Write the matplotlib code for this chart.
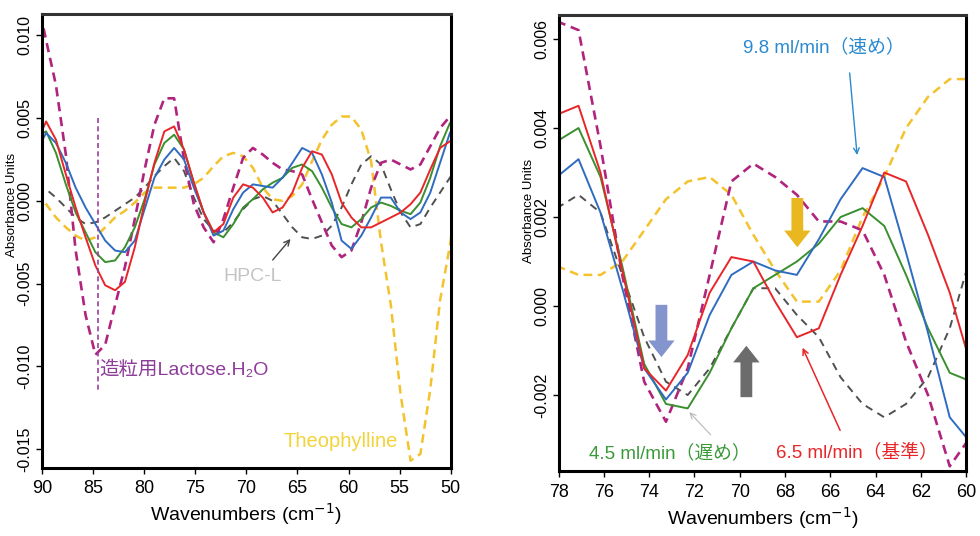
import matplotlib
matplotlib.use('Agg')
import matplotlib.pyplot as plt

plt.rcParams['font.family'] = ['Liberation Sans', 'Noto Sans CJK JP', 'DejaVu Sans']

# second-derivative spectra, full range (left) and enlarged 78-60 cm-1 (right)
wn_left = [90.56, 89.60, 88.64, 87.67, 86.71, 85.74, 84.78, 83.82, 82.85, 81.89, 80.92,
           79.96, 79.00, 78.03, 77.07, 76.10, 75.14, 74.18, 73.21, 72.25, 71.28, 70.32,
           69.36, 68.39, 67.43, 66.46, 65.50, 64.54, 63.57, 62.61, 61.64, 60.68, 59.72,
           58.75, 57.79, 56.82, 55.86, 54.90, 53.93, 52.97, 52.00, 51.04, 50.08, 49.11]

red_left = [0.0035, 0.0048, 0.0037, 0.0016, -0.0004, -0.0022, -0.0039, -0.0051, -0.0054, -0.0049, -0.0028,
            -0.0001, 0.0023, 0.0042, 0.0045, 0.0031, 0.0011, -0.0007, -0.0019, -0.0014, 0.0002, 0.0010,
            0.0008, 0.0002, -0.0007, -0.0004, 0.0005, 0.0020, 0.0030, 0.0028, 0.0016, -0.0001, -0.0010,
            -0.0016, -0.0016, -0.0013, -0.0010, -0.0007, -0.0002, 0.0005, 0.0019, 0.0032, 0.0036, 0.0037]
blue_left = [0.0030, 0.0041, 0.0035, 0.0023, 0.0008, -0.0004, -0.0014, -0.0024, -0.0030, -0.0031, -0.0024,
             -0.0005, 0.0014, 0.0025, 0.0032, 0.0025, 0.0008, -0.0007, -0.0021, -0.0018, -0.0005, 0.0005,
             0.0010, 0.0009, 0.0008, 0.0014, 0.0023, 0.0032, 0.0029, 0.0016, -0.0001, -0.0024, -0.0029,
             -0.0021, -0.0010, 0.0002, 0.0002, -0.0007, -0.0011, -0.0007, 0.0005, 0.0023, 0.0041, 0.0050]
green_left = [0.0039, 0.0042, 0.0029, 0.0010, -0.0007, -0.0019, -0.0031, -0.0037, -0.0036, -0.0028, -0.0016,
              0.0001, 0.0022, 0.0035, 0.0040, 0.0031, 0.0011, -0.0007, -0.0019, -0.0022, -0.0014, -0.0004,
              0.0001, 0.0007, 0.0011, 0.0014, 0.0020, 0.0022, 0.0018, 0.0008, -0.0004, -0.0014, -0.0016,
              -0.0011, -0.0004, -0.0001, -0.0003, -0.0006, -0.0008, -0.0001, 0.0014, 0.0033, 0.0047, 0.0054]
lactose_left = [0.0125, 0.0097, 0.0070, 0.0028, -0.0030, -0.0069, -0.0093, -0.0087, -0.0063, -0.0040, -0.0011,
                0.0019, 0.0046, 0.0062, 0.0062, 0.0025, -0.0002, -0.0016, -0.0025, -0.0011, 0.0008, 0.0026,
                0.0032, 0.0028, 0.0023, 0.0019, 0.0018, 0.0016, 0.0001, -0.0013, -0.0027, -0.0034, -0.0030,
                -0.0013, 0.0008, 0.0023, 0.0025, 0.0022, 0.0019, 0.0022, 0.0033, 0.0044, 0.0051, 0.0055]
hpc_left = [0.0009, 0.0007, 0.0002, -0.0004, -0.0010, -0.0014, -0.0013, -0.0010, -0.0006, -0.0002, 0.0002,
            0.0008, 0.0015, 0.0021, 0.0026, 0.0018, 0.0002, -0.0011, -0.0018, -0.0019, -0.0013, -0.0005,
            0.0001, 0.0003, 0.0000, -0.0008, -0.0016, -0.0022, -0.0023, -0.0021, -0.0015, -0.0004, 0.0010,
            0.0022, 0.0027, 0.0022, 0.0007, -0.0007, -0.0016, -0.0014, -0.0004, 0.0005, 0.0014, 0.0022]
theo_left = [0.0005, -0.0002, -0.0010, -0.0016, -0.0021, -0.0024, -0.0022, -0.0016, -0.0010, -0.0006, -0.0001,
             0.0005, 0.0008, 0.0008, 0.0008, 0.0008, 0.0010, 0.0014, 0.0021, 0.0027, 0.0029, 0.0027,
             0.0020, 0.0008, 0.0001, 0.0000, 0.0003, 0.0010, 0.0024, 0.0037, 0.0046, 0.0051, 0.0051,
             0.0043, 0.0024, -0.0025, -0.0063, -0.0117, -0.0157, -0.0153, -0.0114, -0.0060, -0.0027, 0.0013]

wn_right = [78.08, 77.12, 76.15, 75.19, 74.22, 73.26, 72.30, 71.33, 70.37, 69.40,
            68.44, 67.48, 66.51, 65.55, 64.58, 63.62, 62.66, 61.69, 60.73, 59.76]

red_right = [0.0043, 0.0045, 0.0030, 0.0008, -0.0014, -0.0019, -0.0011, 0.0003, 0.0011, 0.0010,
             0.0001, -0.0007, -0.0005, 0.0007, 0.0018, 0.0030, 0.0028, 0.0016, 0.0003, -0.0014]
blue_right = [0.0029, 0.0033, 0.0021, 0.0004, -0.0014, -0.0021, -0.0015, -0.0002, 0.0007, 0.0010,
              0.0008, 0.0007, 0.0015, 0.0024, 0.0031, 0.0029, 0.0012, -0.0006, -0.0025, -0.0031]
green_right = [0.0037, 0.0040, 0.0029, 0.0009, -0.0013, -0.0022, -0.0023, -0.0015, -0.0005, 0.0004,
               0.0007, 0.0010, 0.0014, 0.0020, 0.0022, 0.0018, 0.0007, -0.0005, -0.0015, -0.0017]
lactose_right = [0.0064, 0.0062, 0.0036, 0.0007, -0.0017, -0.0026, -0.0014, 0.0007, 0.0028, 0.0032,
                 0.0029, 0.0025, 0.0019, 0.0019, 0.0017, 0.0007, -0.0008, -0.0020, -0.0036, -0.0029]
hpc_right = [0.0022, 0.0025, 0.0021, 0.0007, -0.0007, -0.0017, -0.0020, -0.0014, -0.0005, 0.0004,
             0.0004, -0.0002, -0.0007, -0.0016, -0.0022, -0.0025, -0.0022, -0.0016, -0.0005, 0.0012]
theo_right = [0.0009, 0.0007, 0.0007, 0.0010, 0.0017, 0.0024, 0.0028, 0.0029, 0.0025, 0.0016,
              0.0008, 0.0001, 0.0001, 0.0008, 0.0020, 0.0029, 0.0040, 0.0047, 0.0051, 0.0051]

RED = '#e8262a'
BLUE = '#2f6cc0'
GREEN = '#3a8f2e'
MAGENTA = '#b0247e'
GRAY = '#505050'
YELLOW = '#f4c22c'


def draw_spectra(ax, wn, red, blue, green, lactose, hpc, theo):
    ax.plot(wn, theo, color=YELLOW, lw=1.8, dashes=(3.5, 2.2))
    ax.plot(wn, hpc, color=GRAY, lw=1.4, dashes=(4, 3))
    ax.plot(wn, lactose, color=MAGENTA, lw=1.9, dashes=(3.5, 2.2))
    ax.plot(wn, green, color=GREEN, lw=1.4)
    ax.plot(wn, blue, color=BLUE, lw=1.4)
    ax.plot(wn, red, color=RED, lw=1.4)


def style_axes(ax):
    for sp in ax.spines.values():
        sp.set_linewidth(2.2)
        sp.set_color('black')
    ax.spines['top'].set_color('#333333')
    ax.tick_params(axis='x', direction='out', length=4, width=1, labelsize=13, pad=5)
    ax.tick_params(axis='y', direction='out', length=4, width=1, labelsize=11.5, pad=3)
    for lab in ax.get_yticklabels():
        lab.set_rotation(90)
        lab.set_va('center')
    ax.set_xlabel('Wavenumbers (cm$^{-1}$)', fontsize=14, labelpad=3)


fig = plt.figure(figsize=(9.8, 5.36), dpi=100)

# left: 90-50 cm-1
ax1 = fig.add_axes([0.0429, 0.127, 0.417, 0.847])
draw_spectra(ax1, wn_left, red_left, blue_left, green_left, lactose_left, hpc_left, theo_left)
ax1.set_xlim(90, 50)
ax1.set_ylim(-0.01614, 0.0113)
ax1.set_xticks([90, 85, 80, 75, 70, 65, 60, 55, 50])
ax1.set_yticks([0.010, 0.005, 0.000, -0.005, -0.010, -0.015])
ax1.set_yticklabels(['0.010', '0.005', '0.000', '-0.005', '-0.010', '-0.015'])
style_axes(ax1)
ax1.set_ylabel('Absorbance Units', fontsize=9.5)
ax1.yaxis.set_label_coords(-0.058, 0.58)

ax1.plot([84.55, 84.55], [0.0050, -0.0114], color='#9b3fa0', lw=1.2, dashes=(3, 2))
ax1.text(84.4, -0.0102, '造粒用Lactose.H₂O', color='#8e3c9a', fontsize=14,
         ha='left', va='center')
ax1.text(69.4, -0.0046, 'HPC-L', color='#c4c4c4', fontsize=14, ha='center', va='center')
ax1.annotate('', xy=(65.5, -0.00217), xytext=(67.6, -0.0037),
             arrowprops=dict(arrowstyle='->', color='#444444', lw=1))
ax1.text(60.8, -0.01457, 'Theophylline', color='#f2d33a', fontsize=14.5,
         ha='center', va='center')

# right: enlarged 78-60 cm-1
ax2 = fig.add_axes([0.570, 0.121, 0.416, 0.851])
draw_spectra(ax2, wn_right, red_right, blue_right, green_right, lactose_right, hpc_right, theo_right)
ax2.set_xlim(78, 60)
ax2.set_ylim(-0.00371, 0.00654)
ax2.set_xticks(range(78, 59, -2))
ax2.set_yticks([0.006, 0.004, 0.002, 0.000, -0.002])
ax2.set_yticklabels(['0.006', '0.004', '0.002', '0.000', '-0.002'])
style_axes(ax2)
ax2.set_ylabel('Absorbance Units', fontsize=9.5)
ax2.yaxis.set_label_coords(-0.058, 0.57)

ax2.text(66.27, 0.00582, '9.8 ml/min（速め）', color='#2a8ad0', fontsize=13.5,
         ha='center', va='center')
ax2.annotate('', xy=(64.81, 0.00333), xytext=(65.16, 0.0053),
             arrowprops=dict(arrowstyle='->', color='#2a8ad0', lw=1))
ax2.text(73.1, -0.0033, '4.5 ml/min（遅め）', color='#3a9a3a', fontsize=13.5,
         ha='center', va='center')
ax2.annotate('', xy=(72.31, -0.00234), xytext=(71.2, -0.00294),
             arrowprops=dict(arrowstyle='->', color='#b8b8b8', lw=0.8))
ax2.text(64.81, -0.00328, '6.5 ml/min（基準）', color='#e8262a', fontsize=13.5,
         ha='center', va='center')
ax2.annotate('', xy=(67.28, -0.00088), xytext=(65.52, -0.00285),
             arrowprops=dict(arrowstyle='->', color='#e8262a', lw=1.1))

# block arrows marking the shifts
block = 'simple,head_length=1.2,head_width=1.9,tail_width=0.85'
ax2.annotate('', xy=(73.46, -0.00121), xytext=(73.46, 0.00009),
             arrowprops=dict(arrowstyle=block, color='#8494cc', mutation_scale=10, lw=0))
ax2.annotate('', xy=(69.71, -0.00083), xytext=(69.71, -0.00211),
             arrowprops=dict(arrowstyle=block, color='#6c6c6c', mutation_scale=10, lw=0))
ax2.annotate('', xy=(67.46, 0.00126), xytext=(67.46, 0.00249),
             arrowprops=dict(arrowstyle=block, color='#e9b820', mutation_scale=10, lw=0))

fig.savefig('out.png', dpi=100)
